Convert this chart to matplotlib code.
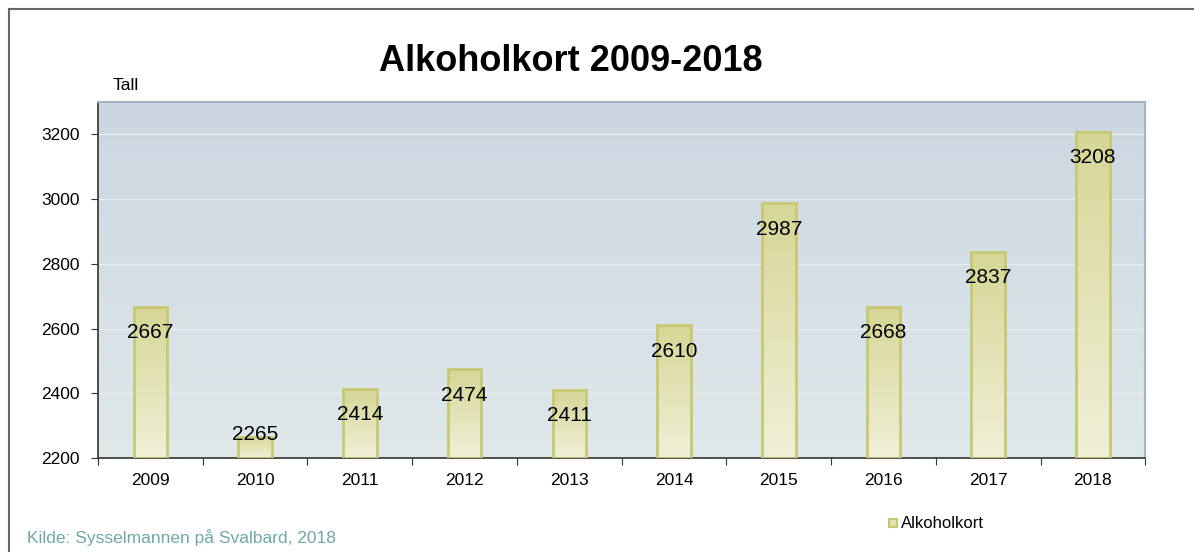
import numpy as np
import matplotlib.pyplot as plt
from matplotlib.colors import LinearSegmentedColormap
from matplotlib.patches import Rectangle
from matplotlib.lines import Line2D

plt.rcParams['font.family'] = ['Liberation Sans', 'DejaVu Sans']

years = ['2009', '2010', '2011', '2012', '2013', '2014', '2015', '2016', '2017', '2018']
values = [2667, 2265, 2414, 2474, 2411, 2610, 2987, 2668, 2837, 3208]

fig = plt.figure(figsize=(11.94, 5.52), dpi=100)
ax = fig.add_axes([0.0821, 0.1703, 0.8771, 0.6449])

ymin, ymax = 2200, 3300
x = np.arange(len(years))
ax.set_xlim(-0.5, len(years) - 0.5)
ax.set_ylim(ymin, ymax)

# background gradient
bg = LinearSegmentedColormap.from_list('bg', ['#dfe9ea', '#cbd6e1'])
ax.imshow(np.linspace(0, 1, 256).reshape(-1, 1), cmap=bg, aspect='auto',
          extent=[-0.5, len(years) - 0.5, ymin, ymax], origin='lower', zorder=0)

# grid
for g in range(2400, 3300, 200):
    ax.axhline(g, color='#e8eef2', lw=1, zorder=1)

# bars with vertical gradient
barcm = LinearSegmentedColormap.from_list('bar', ['#f0f0d8', '#d6d696'])
w = 0.32
bars = ax.bar(x, [v - ymin for v in values], bottom=ymin, width=w,
              facecolor='none', edgecolor='#c8c872', lw=2, zorder=3)
for b in bars:
    x0, y0 = b.get_x(), b.get_y()
    im = ax.imshow(np.linspace(0, 1, 256).reshape(-1, 1), cmap=barcm, aspect='auto',
                   extent=[x0, x0 + b.get_width(), y0, y0 + b.get_height()],
                   origin='lower', zorder=2)
    im.set_clip_path(b)

for xi, v in zip(x, values):
    ax.text(xi, max(v - 80, 2274), str(v), ha='center', va='center',
            fontsize=15, color='black', zorder=4)

ax.set_xticks(np.arange(len(years) + 1) - 0.5, minor=False)
ax.set_xticklabels([])
ax.set_xticks(x, minor=True)
ax.set_xticklabels(years, minor=True, fontsize=12.5)
ax.tick_params(axis='x', which='minor', length=0, pad=11)
ax.tick_params(axis='x', which='major', length=5, direction='out', color='#333333')
ax.set_yticks(range(2200, 3300, 200))
ax.tick_params(axis='y', length=5, direction='out', labelsize=12.5, color='#333333', pad=8)

ax.spines['left'].set_color('#333333')
ax.spines['bottom'].set_color('#333333')
ax.spines['top'].set_color('#a2b4c8')
ax.spines['right'].set_color('#a2b4c8')
for s in ax.spines.values():
    s.set_linewidth(1.5)
ax.spines['left'].set_linewidth(1.2)
ax.spines['bottom'].set_linewidth(1.2)

fig.text(0.478, 0.888, 'Alkoholkort 2009-2018', ha='center', va='center',
         fontsize=26, fontweight='bold')
fig.text(0.094, 0.845, 'Tall', ha='left', va='center', fontsize=12.5)
fig.text(0.023, 0.027, 'Kilde: Sysselmannen på Svalbard, 2018', ha='left', va='center',
         fontsize=12.5, color='#6fa8a8')

# legend
fig.add_artist(Rectangle((0.7445, 0.045), 0.0068, 0.0148, transform=fig.transFigure,
                         facecolor='#e2e2b4', edgecolor='#c8c872', lw=1.5))
fig.text(0.7545, 0.0525, 'Alkoholkort', ha='left', va='center', fontsize=12)

# figure frame
fig.add_artist(Line2D([0.0075, 1.0], [0.9835, 0.9835], transform=fig.transFigure,
                      color='#666666', lw=1.5))
fig.add_artist(Line2D([0.0075, 0.0075], [0.0, 0.9835], transform=fig.transFigure,
                      color='#666666', lw=1.5))

fig.savefig('out.png', dpi=100)
